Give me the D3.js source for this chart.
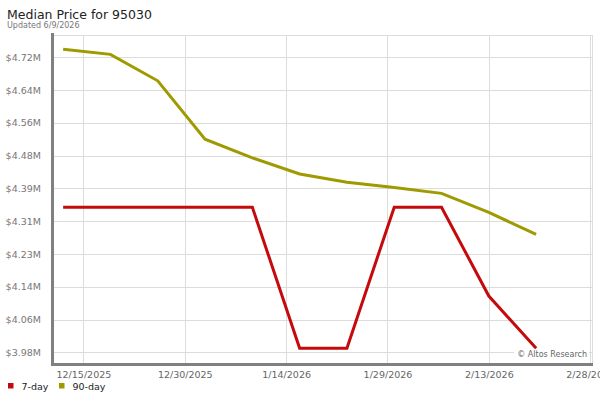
<!DOCTYPE html>
<html>
<head>
<meta charset="utf-8">
<script src="https://cdn.jsdelivr.net/npm/d3@7"></script>
<style>
  body { margin: 0; background: #fff; }
  svg { display: block; font-family: "DejaVu Sans", Verdana, sans-serif; }
</style>
</head>
<body>
<div id="chart"></div>
<script>
(function(){

// weekly points, values in $M
var dates = ["2025-12-12","2025-12-19","2025-12-26","2026-01-02","2026-01-09","2026-01-16",
             "2026-01-23","2026-01-30","2026-02-06","2026-02-13","2026-02-20"];
var sevenDay  = [4.345, 4.345, 4.345, 4.345, 4.345, 3.988, 3.988, 4.345, 4.345, 4.120, 3.988];
var ninetyDay = [4.745, 4.732, 4.665, 4.517, 4.470, 4.429, 4.408, 4.395, 4.380, 4.332, 4.276];

var yTicks = [3.9775, 4.0605, 4.1435, 4.2265, 4.3095, 4.3925, 4.4755, 4.5585, 4.6415, 4.7245];
var xTicks = ["2025-12-15","2025-12-30","2026-01-14","2026-01-29","2026-02-13","2026-02-28"];

var seriesNames = ["7-day", "90-day"];
var seriesColors = ["#c40a0c", "#9e9a00"];

var W = 600, H = 400;
var left = 53, right = 593, top = 35, bottom = 364;

var parse = d3.timeParse("%Y-%m-%d");
var fmt = d3.timeFormat("%-m/%-d/%Y");

var x = d3.scaleTime()
  .domain([new Date(2025, 11, 10, 12), new Date(2026, 1, 28, 10)])
  .range([left, right]);

var y = d3.scaleLinear()
  .domain([3.948, 4.781])
  .range([bottom, top]);

var svg = d3.select("#chart").append("svg")
  .attr("width", W)
  .attr("height", H);

// title
svg.append("text")
  .attr("x", 7).attr("y", 18.5)
  .attr("font-size", "12.5px")
  .attr("fill", "#222")
  .text("Median Price for 95030");
svg.append("text")
  .attr("x", 7).attr("y", 28)
  .attr("font-size", "8px")
  .attr("fill", "#777")
  .text("Updated 6/9/2026");

// grid
var grid = svg.append("g").attr("stroke", "#dcdcdc").attr("stroke-width", 1);
grid.selectAll("line.h")
  .data(yTicks)
  .enter().append("line")
    .attr("x1", left).attr("x2", right)
    .attr("y1", function(d){ return Math.round(y(d)) + 0.5; })
    .attr("y2", function(d){ return Math.round(y(d)) + 0.5; });
grid.selectAll("line.v")
  .data(xTicks)
  .enter().append("line")
    .attr("x1", function(d){ return Math.round(x(parse(d))) + 0.5; })
    .attr("x2", function(d){ return Math.round(x(parse(d))) + 0.5; })
    .attr("y1", top).attr("y2", bottom);
// top and right border
grid.append("line").attr("x1", left).attr("x2", right).attr("y1", top + 0.5).attr("y2", top + 0.5);
grid.append("line").attr("x1", right - 0.5).attr("x2", right - 0.5).attr("y1", top).attr("y2", bottom);

// y labels
var yAxis = svg.append("g")
  .attr("transform", "translate(" + (left - 9) + ",0)")
  .call(d3.axisLeft(y).tickValues(yTicks).tickSize(0)
    .tickFormat(function(d){ return "$" + d3.format(".2f")(d) + "M"; }));
yAxis.select(".domain").remove();
yAxis.selectAll("text")
  .attr("font-family", "DejaVu Sans, sans-serif")
  .attr("font-size", "9.5px")
  .attr("fill", "#777");

// x labels
var xAxis = svg.append("g")
  .attr("transform", "translate(0," + (bottom + 4) + ")")
  .call(d3.axisBottom(x).tickValues(xTicks.map(parse)).tickSize(0).tickFormat(fmt));
xAxis.select(".domain").remove();
xAxis.selectAll("text")
  .attr("font-family", "DejaVu Sans, sans-serif")
  .attr("font-size", "9.5px")
  .attr("fill", "#666");

// copyright
var cr = svg.append("g");
cr.append("rect")
  .attr("x", 514).attr("y", 347).attr("width", 75).attr("height", 12)
  .attr("fill", "#fff");
cr.append("text")
  .attr("x", 587).attr("y", 357)
  .attr("text-anchor", "end")
  .attr("font-size", "8px")
  .attr("fill", "#666")
  .text("\u00a9 Altos Research");

// lines
var line = d3.line()
  .x(function(d, i){ return x(parse(dates[i])); })
  .y(function(d){ return y(d); });

[sevenDay, ninetyDay].forEach(function(s, i){
  svg.append("path")
    .datum(s)
    .attr("d", line)
    .attr("fill", "none")
    .attr("stroke", seriesColors[i])
    .attr("stroke-width", 3);
});

// axis bars
svg.append("line")
  .attr("x1", left - 0.5).attr("x2", left - 0.5)
  .attr("y1", top - 2).attr("y2", bottom + 2)
  .attr("stroke", "#808080").attr("stroke-width", 3);
svg.append("line")
  .attr("x1", left - 2).attr("x2", right)
  .attr("y1", bottom + 0.5).attr("y2", bottom + 0.5)
  .attr("stroke", "#808080").attr("stroke-width", 3);

// legend
var lg = svg.append("g").selectAll("g")
  .data(seriesNames)
  .enter().append("g")
    .attr("transform", function(d, i){ return "translate(" + [8, 59][i] + ",383)"; });
lg.append("rect")
  .attr("width", 5.5).attr("height", 5.5)
  .attr("fill", function(d, i){ return seriesColors[i]; });
lg.append("text")
  .attr("x", 13.5).attr("y", 6.8)
  .attr("font-size", "9.5px")
  .attr("fill", "#222")
  .text(function(d){ return d; });

})();
</script>
</body>
</html>
